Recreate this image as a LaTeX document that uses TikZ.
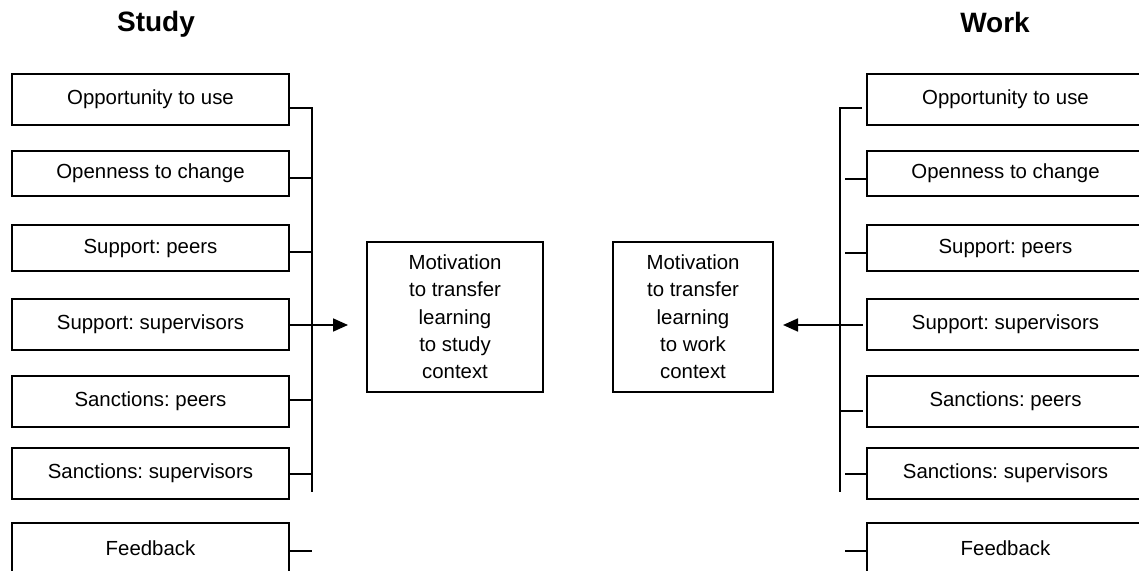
\documentclass[tikz,border=0pt]{standalone}
\usepackage{fontspec}
\setmainfont{Liberation Sans}
\usetikzlibrary{arrows.meta, positioning}
\frenchspacing

\begin{document}
\begin{tikzpicture}[x=0.5pt, y=-0.5pt,
    factor/.style={draw, line width=0.9pt, minimum width=138.5pt, inner sep=0pt, outer sep=0pt, font=\fontsize{10.2pt}{13.65pt}\selectfont},
    motiv/.style={draw, line width=0.9pt, minimum height=75pt, inner sep=0pt, outer sep=0pt, align=center, font=\fontsize{10.2pt}{13.65pt}\selectfont},
    link/.style={line width=0.9pt},
    head/.style={anchor=base, font=\fontsize{14pt}{17pt}\selectfont\bfseries}]
    \useasboundingbox (0,0) rectangle (1139,571);
    \node[head] (TS) at (156,32) {Study};
    \node[head] (TW) at (995,33) {Work};

    % study side
    \node[factor, minimum height=25.5pt] (S1) at (150.5,99.5) {Opportunity to use};
    \node[factor, minimum height=22.5pt, below=13pt of S1] (S2) {Openness to change};
    \node[factor, minimum height=23pt, below=14.5pt of S2] (S3) {Support: peers};
    \node[factor, minimum height=25.5pt, below=14pt of S3] (S4) {Support: supervisors};
    \node[factor, minimum height=25.5pt, below=13pt of S4] (S5) {Sanctions: peers};
    \node[factor, minimum height=25.5pt, below=10.5pt of S5] (S6) {Sanctions: supervisors};
    \node[factor, minimum height=25.5pt, below=12pt of S6] (S7) {Feedback};

    % work side
    \node[factor, minimum height=25.5pt, right=289pt of S1] (W1) {Opportunity to use};
    \node[factor, minimum height=22.5pt, right=289pt of S2] (W2) {Openness to change};
    \node[factor, minimum height=23pt, right=289pt of S3] (W3) {Support: peers};
    \node[factor, minimum height=25.5pt, right=289pt of S4] (W4) {Support: supervisors};
    \node[factor, minimum height=25.5pt, right=289pt of S5] (W5) {Sanctions: peers};
    \node[factor, minimum height=25.5pt, right=289pt of S6] (W6) {Sanctions: supervisors};
    \node[factor, minimum height=25.5pt, right=289pt of S7] (W7) {Feedback};

    \node[motiv, minimum width=88pt] (MS) at (455,317) {Motivation\\to transfer\\learning\\to study\\context};
    \node[motiv, minimum width=80pt] (MW) at (693,317) {Motivation\\to transfer\\learning\\to work\\context};

    % left bracket
    \coordinate (LT) at (312,108);
    \coordinate (LB) at (312,492);
    \draw[link] (S1.east |- LT) -- (LT) -- (LB);
    \foreach \n/\y in {2/178, 3/252, 5/400, 6/474, 7/551} {
        \coordinate (L\n) at (312,\y);
        \draw[link] (S\n.east |- L\n) -- (L\n);
    }
    \coordinate (AS) at (348,325);
    \draw[link, -{Triangle[length=7.5pt, width=6.5pt]}] (S4.east |- AS) -- (AS);

    % right bracket
    \coordinate (RT) at (840,108);
    \coordinate (RB) at (840,492);
    \coordinate (R1) at (862,108);
    \draw[link] (R1) -- (RT) -- (RB);
    \foreach \n/\y in {2/179, 3/253, 6/474, 7/551} {
        \coordinate (R\n) at (845,\y);
        \draw[link] (R\n) -- (W\n.west |- R\n);
    }
    \coordinate (R4) at (838,325);
    \coordinate (Q4) at (863,325);
    \draw[link] (R4) -- (Q4);
    \coordinate (R5) at (841,411);
    \coordinate (Q5) at (863,411);
    \draw[link] (R5) -- (Q5);
    \coordinate (AW) at (783,325);
    \draw[link, -{Triangle[length=7.5pt, width=6.5pt]}] (RT |- AW) -- (AW);
\end{tikzpicture}
\end{document}
